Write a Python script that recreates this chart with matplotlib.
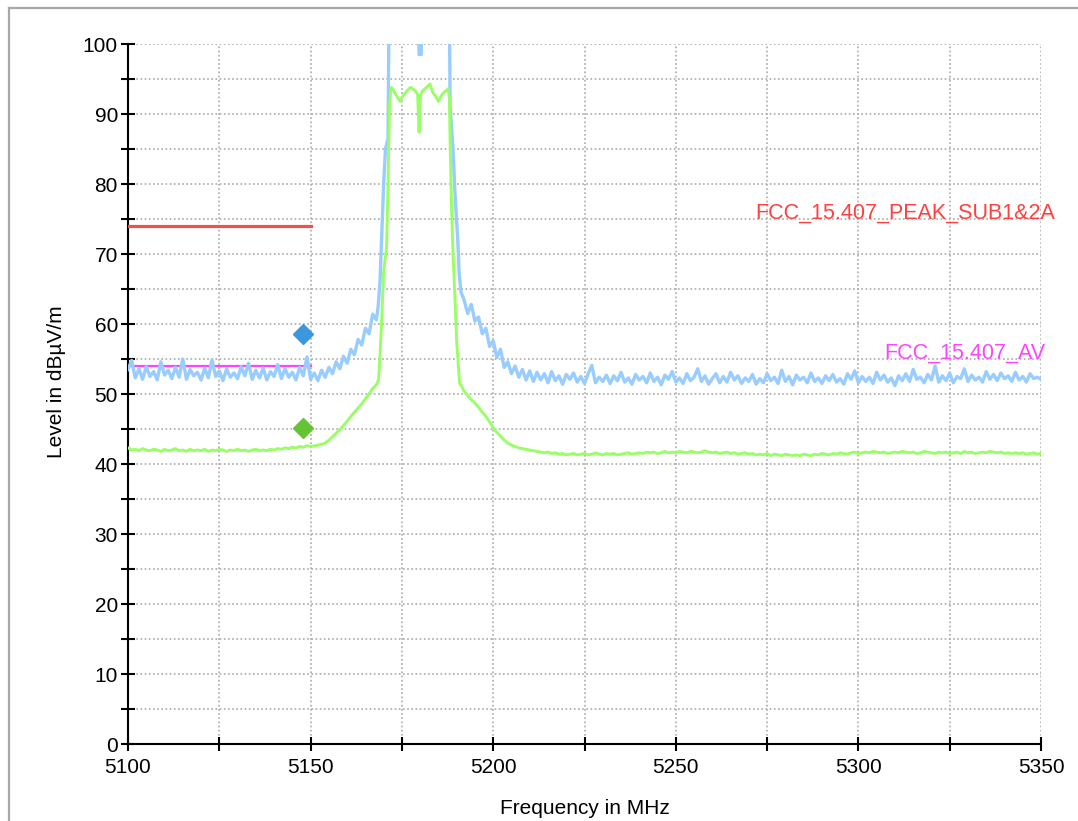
import numpy as np
import matplotlib
matplotlib.use("Agg")
import matplotlib.pyplot as plt
from matplotlib.lines import Line2D
from matplotlib.ticker import MultipleLocator

plt.rcParams['font.family'] = ['Liberation Sans', 'DejaVu Sans']

# ---- measured traces (read off the screenshot) ----
# 1 MHz grid below and above the carrier
freq_lo = list(range(5100, 5169))
freq_hi = list(range(5192, 5351))

peak_lo = [53.5, 54.8, 52.3, 53.6, 52.1, 53.9, 52.5, 53.2, 52.0, 54.6,
           52.7, 53.4, 52.2, 53.8, 52.4, 55.0, 52.1, 53.5, 52.6, 53.1,
           52.0, 53.7, 52.3, 54.9, 52.5, 53.3, 51.9, 53.6, 52.4, 53.0,
           52.2, 53.9, 52.6, 54.4, 52.1, 53.4, 52.3, 53.7, 52.0, 53.2,
           52.5, 54.2, 52.2, 53.6, 52.4, 53.1, 52.0, 53.8, 52.6, 55.3, 52.1,
           53.0, 51.9, 53.4, 52.4, 53.8, 52.9, 54.6, 53.6, 55.4, 54.4,
           56.4, 55.6, 57.8, 57.0, 59.4, 58.6, 61.4, 60.6]

# carrier region (peak detector), values above 100 are off scale
peak_band_f = [5168.5, 5169.0, 5169.5, 5170.0, 5170.5, 5171.2, 5171.5, 5179.6, 5179.7,
               5180.3, 5180.4, 5188.0, 5188.2, 5189.0, 5189.5, 5190.3, 5190.7, 5191.2]
peak_band_v = [62.5, 66.0, 73.0, 80.0, 85.0, 86.5, 106.0, 106.0, 98.5,
               98.5, 106.0, 106.0, 91.0, 85.0, 79.0, 72.0, 67.0, 64.5]

peak_hi = [63.5, 61.5, 62.8, 60.4, 61.0, 58.6, 59.4, 56.8, 57.6, 55.2,
           56.4, 53.8, 54.6, 52.9, 54.0, 52.4, 53.5, 52.0, 53.3, 51.8, 53.1,
           52.0, 52.9, 51.6, 53.2, 51.9, 52.6, 51.4, 52.8, 52.1, 53.0,
           51.7, 52.5, 51.5, 52.9, 54.1, 51.6, 52.4, 51.8, 52.7, 51.5,
           52.6, 51.9, 53.1, 51.7, 52.3, 51.4, 52.8, 52.0, 52.5, 51.6,
           53.0, 51.8, 52.4, 51.3, 52.7, 52.1, 53.2, 51.7, 52.3, 51.5,
           52.9, 51.9, 52.4, 53.6, 51.8, 52.6, 51.4, 52.2, 52.9, 51.6,
           52.5, 51.7, 53.1, 52.0, 52.6, 51.5, 52.3, 51.8, 52.8, 51.4,
           52.2, 51.6, 52.9, 51.9, 52.4, 51.5, 53.4, 51.8, 52.5, 51.3,
           52.7, 52.0, 52.4, 51.6, 53.0, 51.8, 52.3, 51.5, 52.6, 51.9,
           52.8, 51.7, 52.2, 51.4, 52.9, 52.1, 53.3, 51.6, 52.5, 51.8,
           52.4, 51.5, 53.1, 52.0, 52.7, 51.7, 52.3, 51.2, 52.6, 51.9,
           52.9, 51.8, 53.5, 52.1, 52.4, 51.6, 52.8, 52.0, 54.0, 51.7,
           52.6, 51.9, 53.0, 51.6, 52.5, 52.2, 53.6, 51.8, 52.7, 52.0,
           52.4, 51.7, 53.2, 52.1, 52.8, 51.9, 53.0, 52.2, 52.6, 51.8,
           53.1, 52.0, 52.5, 51.7, 52.9, 52.2, 52.4, 52.1]

avg_lo = [42.3, 42.0, 42.1, 41.9, 42.2, 42.0, 41.9, 42.1, 42.0, 41.8,
          42.1, 41.9, 42.0, 42.2, 41.9, 42.0, 41.8, 42.1, 41.9, 42.0,
          41.9, 42.1, 41.8, 42.0, 41.9, 42.1, 42.0, 41.8, 42.0, 41.9,
          42.1, 41.9, 42.0, 41.8, 42.0, 42.1, 41.9, 42.0, 41.9, 42.1,
          42.0, 42.2, 42.1, 42.3, 42.2, 42.4, 42.3, 42.5, 42.4, 42.6, 42.5,
          42.6, 42.7, 42.8, 43.0, 43.4, 43.9, 44.4, 44.9, 45.5, 46.1,
          46.8, 47.4, 48.0, 48.6, 49.3, 50.0, 50.8, 51.3]

avg_band_f = [5168.6, 5169.0, 5169.5, 5170.0, 5170.8, 5171.2, 5171.6, 5172.0, 5172.5,
              5173.3, 5174.5, 5175.3, 5176.2, 5177.3, 5178.6, 5179.3, 5179.7, 5180.1,
              5180.5, 5181.7, 5182.7, 5183.5, 5184.3, 5185.0, 5186.0, 5186.8, 5187.7,
              5188.0, 5188.2, 5188.6, 5189.0, 5189.5, 5190.0, 5190.8, 5191.5]
avg_band_v = [52.0, 55.5, 61.0, 67.5, 71.0, 80.0, 91.0, 93.8, 93.6,
              92.8, 91.8, 92.6, 93.2, 93.8, 93.4, 92.8, 87.4, 92.6,
              93.2, 93.8, 94.3, 93.0, 92.5, 91.8, 92.8, 93.2, 93.6,
              92.2, 86.0, 76.5, 70.0, 64.0, 57.5, 51.5, 51.0]

avg_hi = [50.4, 49.8, 49.2, 48.7, 48.1, 47.4, 46.8, 46.0, 45.2, 44.5,
          44.0, 43.4, 43.0, 42.7, 42.5, 42.3, 42.2, 42.1, 42.0, 41.9, 41.8,
          41.7, 41.6, 41.7, 41.5, 41.6, 41.4, 41.5, 41.3, 41.4, 41.5,
          41.3, 41.4, 41.5, 41.3, 41.4, 41.6, 41.4, 41.3, 41.5, 41.4,
          41.5, 41.3, 41.4, 41.5, 41.6, 41.4, 41.5, 41.6, 41.5, 41.7,
          41.6, 41.7, 41.5, 41.6, 41.8, 41.6, 41.7, 41.6, 41.8, 41.7,
          41.6, 41.8, 41.7, 41.6, 41.7, 41.9, 41.7, 41.6, 41.7, 41.5,
          41.6, 41.7, 41.5, 41.6, 41.4, 41.5, 41.6, 41.4, 41.5, 41.3,
          41.4, 41.3, 41.5, 41.2, 41.4, 41.3, 41.2, 41.4, 41.3, 41.2,
          41.3, 41.2, 41.4, 41.3, 41.2, 41.4, 41.3, 41.5, 41.4, 41.3,
          41.5, 41.4, 41.6, 41.5, 41.4, 41.6, 41.7, 41.5, 41.6, 41.7,
          41.6, 41.8, 41.7, 41.6, 41.7, 41.5, 41.6, 41.7, 41.6, 41.8,
          41.7, 41.6, 41.7, 41.5, 41.6, 41.8, 41.7, 41.6, 41.5, 41.7,
          41.6, 41.7, 41.5, 41.6, 41.7, 41.5, 41.8, 41.6, 41.7, 41.5,
          41.6, 41.7, 41.6, 41.8, 41.7, 41.6, 41.7, 41.5, 41.6, 41.5,
          41.6, 41.5, 41.6, 41.4, 41.5, 41.6, 41.4, 41.5]

# limit lines
peak_limit_f = [5100, 5150]
peak_limit_v = [74, 74]
avg_limit_f = [5100, 5150]
avg_limit_v = [54, 54]

# final measurement markers
marker_f = [5147.9, 5147.9]
marker_v = [58.6, 45.1]

peak_f = freq_lo + peak_band_f + freq_hi
peak_v = peak_lo + peak_band_v + peak_hi
avg_f = freq_lo + avg_band_f + freq_hi
avg_v = avg_lo + avg_band_v + avg_hi

# ---- figure ----
fig = plt.figure(figsize=(10.78, 8.21), dpi=100)
ax = fig.add_axes([128 / 1078, 1 - 744 / 821, 913 / 1078, 700 / 821])

ax.plot(avg_limit_f, avg_limit_v, color='#ff44ff', lw=1.6, zorder=2)
ax.plot(peak_f, peak_v, color='#99ccff', lw=2.4, zorder=3)
ax.plot(avg_f, avg_v, color='#99ff66', lw=2.1, zorder=3)
ax.plot(peak_limit_f, peak_limit_v, color='#f05050', lw=2.3, zorder=4)
ax.plot(marker_f[0], marker_v[0], 'D', color='#3c98dc', ms=10, zorder=5)
ax.plot(marker_f[1], marker_v[1], 'D', color='#66c434', ms=10, zorder=5)

ax.text(5353.8, 75.9, 'FCC_15.407_PEAK_SUB1&2A', color='#ff4040', fontsize=15.5,
        ha='right', va='center', clip_on=False)
ax.text(5351.1, 55.8, 'FCC_15.407_AV', color='#ff44ff', fontsize=15.5,
        ha='right', va='center', clip_on=False)

ax.set_xlim(5100, 5350)
ax.set_ylim(0, 100)
ax.xaxis.set_major_locator(MultipleLocator(50))
ax.xaxis.set_minor_locator(MultipleLocator(25))
ax.yaxis.set_major_locator(MultipleLocator(10))
ax.yaxis.set_minor_locator(MultipleLocator(5))

ax.grid(which='both', color='#aaaaaa', lw=1.2, linestyle=(0, (1, 1.5)))
ax.set_axisbelow(True)

for s in ['top', 'right']:
    ax.spines[s].set_visible(False)
for s in ['left', 'bottom']:
    ax.spines[s].set_linewidth(1.5)

ax.tick_params(which='both', direction='inout', length=10.5, width=1.5, colors='black')
ax.tick_params(axis='x', which='major', pad=5, labelsize=15)
ax.tick_params(axis='y', which='major', pad=2, labelsize=15)

ax.set_xlabel('Frequency in MHz', fontsize=15)
ax.set_ylabel('Level in dBµV/m', fontsize=15)
ax.xaxis.set_label_coords(0.5, -0.078)
ax.yaxis.set_label_coords(-0.068, 0.517)

# outer frame of the screenshot
fig.add_artist(Line2D([9 / 1078, 1], [1 - 8 / 821, 1 - 8 / 821], color='#a8a8a8', lw=1.6))
fig.add_artist(Line2D([9 / 1078, 9 / 1078], [0, 1 - 8 / 821], color='#a8a8a8', lw=1.6))

fig.savefig('out.png', dpi=100)
